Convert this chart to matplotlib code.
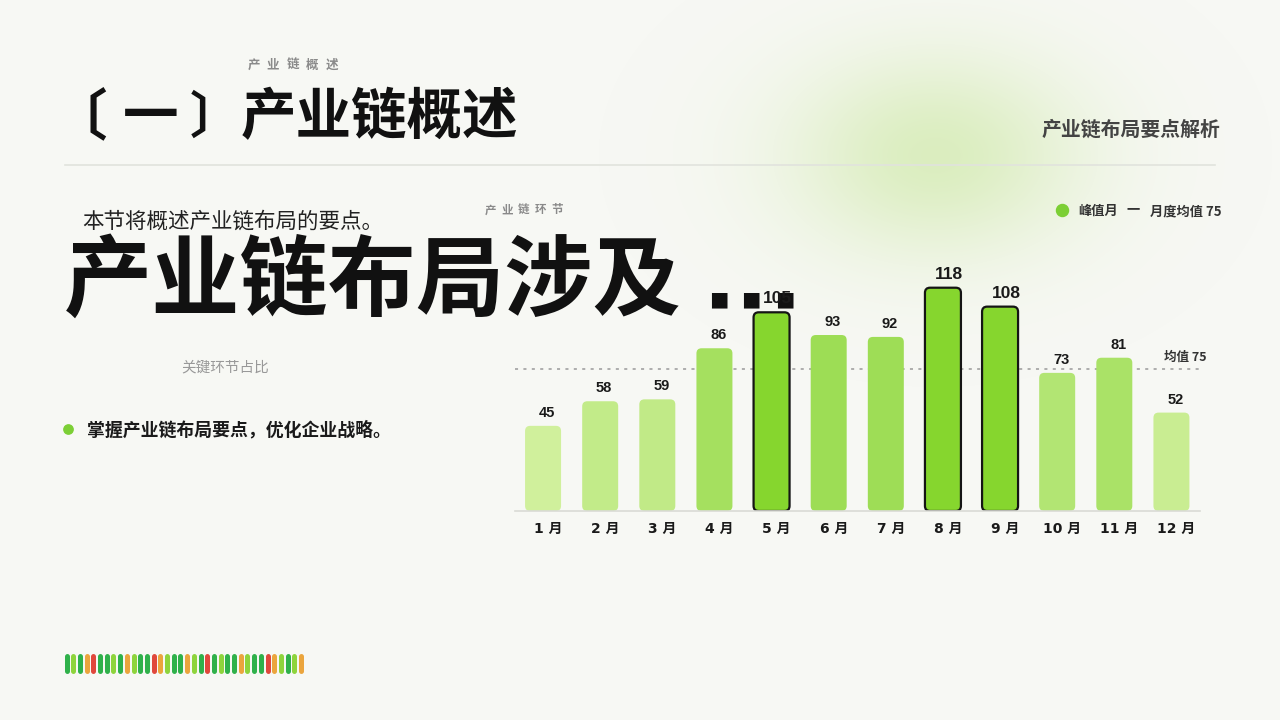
import numpy as np
import matplotlib
matplotlib.use("Agg")
import matplotlib.pyplot as plt
from matplotlib.colors import LinearSegmentedColormap, to_rgb
from matplotlib.patches import FancyBboxPatch
from matplotlib.transforms import ScaledTranslation

plt.rcParams["font.family"] = ["Noto Sans CJK SC", "DejaVu Sans"]
NUM_FONT = ["DejaVu Sans", "Noto Sans CJK SC"]
VAL_FONT = ["Liberation Sans", "DejaVu Sans"]

# Data
months = ["1 月", "2 月", "3 月", "4 月", "5 月", "6 月", "7 月", "8 月", "9 月", "10 月", "11 月", "12 月"]
values = [45, 58, 59, 86, 105, 93, 92, 118, 108, 73, 81, 52]
mean_value = 75
peak_months = ["5 月", "8 月", "9 月"]

# decorative stripe at the bottom (G=green, L=light green, O=orange, R=red)
stripe = list("GLGORGGLGOLGGROLGGOLGRGLGGOLGGROLGLO")
stripe_colors = {"G": "#2fb14a", "L": "#8ed43c", "O": "#eba53d", "R": "#e0483c"}

BG = "#f7f8f4"
fig = plt.figure(figsize=(12.8, 7.2), dpi=100, facecolor=BG)

# soft green glow, top right
bg = fig.add_axes([0, 0, 1, 1])
bg.set_xlim(0, 1280)
bg.set_ylim(720, 0)
bg.axis("off")
yy, xx = np.mgrid[0:720, 0:1280]
d = ((xx - 935) / 160.0) ** 2 + ((yy - 155) / 110.0) ** 2
alpha = 0.8 * np.exp(-d * 1.2)
glow = np.zeros((720, 1280, 4))
glow[..., :3] = to_rgb("#d4ebb2")
glow[..., 3] = alpha
bg.imshow(glow, extent=(0, 1280, 720, 0), zorder=0)


def spaced(x0, y, s, step, **kw):
    for i, ch in enumerate(s):
        bg.text(x0 + i * step, y, ch, ha="center", va="center", **kw)


# header
title_kw = dict(fontweight="bold", color="#111111", ha="left", va="center")
spaced(253.5, 65, "产业链概述", 19.5, fontsize=9, color="#8a8a8a", fontweight="bold")
bg.text(52, 118, "〔", fontsize=40, **title_kw)
bg.text(123, 118, "一", fontsize=40, **title_kw)
bg.text(190, 118, "〕", fontsize=36, **title_kw)
bg.text(241, 118, "产业链概述", fontsize=40, **title_kw)
bg.text(1220, 129, "产业链布局要点解析", fontsize=14.3, fontweight="bold", color="#444444", ha="right", va="center")
bg.plot([65, 1215], [165, 165], color="#e1e3dd", lw=1.2)

# left column
bg.text(82, 222, "本节将概述产业链布局的要点。", fontsize=15.5, color="#222222", ha="left", va="center")
bg.text(64, 283, "产业链布局涉及", fontsize=63.5, fontweight="bold", color="#111111", ha="left", va="center", zorder=5)
for sx in [719, 751, 785]:
    bg.text(sx, 302, "■", fontsize=14, color="#111111", ha="center", va="center", zorder=6)
bg.text(225, 367, "关键环节占比", fontsize=10.5, color="#999999", ha="center", va="center")
bg.scatter([68], [429], s=45, color="#7ccf35", zorder=3)
bg.text(87, 430, "掌握产业链布局要点，优化企业战略。", fontsize=12.9, fontweight="bold", color="#1a1a1a", ha="left", va="center")
spaced(490.5, 210, "产业链环节", 16.75, fontsize=8.3, color="#8a8a8a", fontweight="bold")

# legend
bg.scatter([1062], [210], s=75, color="#7ccf35", zorder=3)
bg.text(1078, 211, "峰值月", fontsize=9.5, fontweight="bold", color="#333333", ha="left", va="center")
bg.text(1133, 209, "一", fontsize=9.5, fontweight="bold", color="#333333", ha="center", va="center")
bg.text(1222, 211, "月度均值 75", fontsize=9.5, fontweight="bold", color="#333333", ha="right", va="center",
        family=NUM_FONT[::-1])

# stripe
for i, c in enumerate(stripe):
    x0 = 66.5 + i * 6.7
    bg.plot([x0, x0], [656, 671], color=stripe_colors[c], lw=3.6, solid_capstyle="round")

# bar chart
ax = fig.add_axes([514.5 / 1280, 1 - 511 / 720, 685.5 / 1280, 246 / 720])
ax.set_facecolor("none")
x = np.arange(len(months))
ax.set_xlim(-0.5, len(months) - 0.5)
ax.set_ylim(0, 130)

cmap = LinearSegmentedColormap.from_list("g", ["#d0f09c", "#9bdc52"])
ax.axhline(mean_value, color="#9a9a9a", lw=1.1, ls=(0, (2, 3.5)), zorder=1)

bars = ax.bar(x, values, width=0.63, color="none")
for b, m, v in zip(bars, months, values):
    peak = m in peak_months
    if peak:
        fc, ec, lw = "#86d62e", "#151515", 1.6
    else:
        fc, ec, lw = cmap((v - 45) / (95 - 45)), "none", 0
    r = 0.09
    patch = FancyBboxPatch((b.get_x() + r, r * 30), b.get_width() - 2 * r, b.get_height() - 2 * r * 30,
                           boxstyle=f"round,pad={r}", mutation_aspect=30,
                           facecolor=fc, edgecolor=ec, linewidth=lw, zorder=2)
    ax.add_patch(patch)
    shift = ScaledTranslation((6 if peak else 4) / 100, 0, fig.dpi_scale_trans)
    ax.text(b.get_x() + b.get_width() / 2, v + 3.2, str(v), ha="center", va="bottom",
            fontsize=12.5 if peak else 10.5, fontweight="bold", color="#1a1a1a", family=VAL_FONT,
            transform=ax.transData + shift)

ax.text(11.62, mean_value + 2.8, "均值 75", ha="right", va="bottom", fontsize=9, fontweight="bold",
        color="#333333", family=NUM_FONT[::-1])

for s in ["top", "right", "left"]:
    ax.spines[s].set_visible(False)
ax.spines["bottom"].set_color("#d9dbd5")
ax.spines["bottom"].set_linewidth(1.2)
ax.set_yticks([])
ax.set_xticks(x)
ax.set_xticklabels(months, fontweight="bold", fontsize=10, color="#1a1a1a", family=NUM_FONT)
ax.tick_params(axis="x", length=0, pad=8)
tick_shift = ScaledTranslation(5 / 100, 0, fig.dpi_scale_trans)
for lab in ax.get_xticklabels():
    lab.set_transform(lab.get_transform() + tick_shift)

fig.savefig("out.png", dpi=100, facecolor=BG)
